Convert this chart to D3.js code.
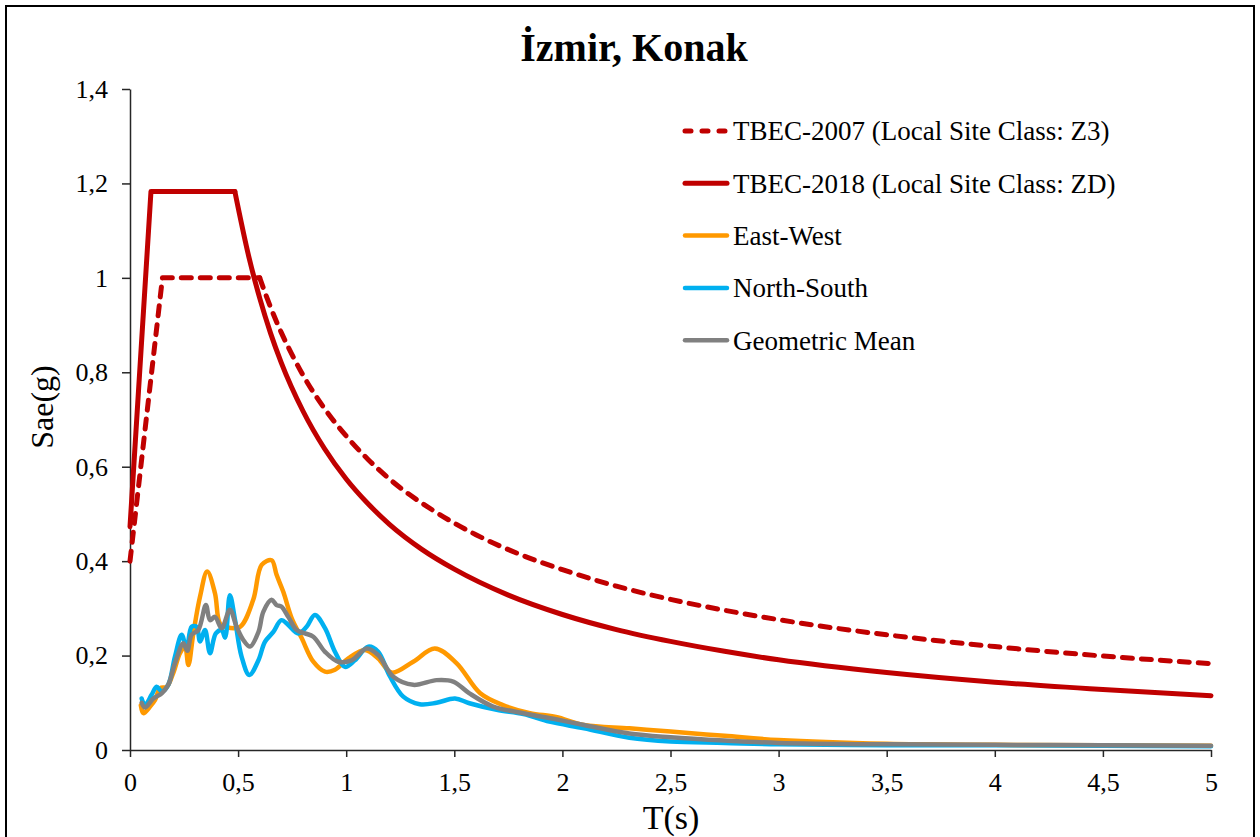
<!DOCTYPE html>
<html>
<head>
<meta charset="utf-8">
<title>İzmir, Konak</title>
<script src="https://cdn.jsdelivr.net/npm/d3@7"></script>
<style>
    body { margin: 0; background: white; }
    text { font-family: "Liberation Serif", "Times New Roman", serif; fill: #000; }
    .tick text { font-size: 26px; }
    .axis path, .axis line { stroke: #262626; stroke-width: 1.5px; }
</style>
</head>
<body>
<div id="chart"></div>
<script>
// ---- data ----
const xTicks = [0, 0.5, 1, 1.5, 2, 2.5, 3, 3.5, 4, 4.5, 5];
const xTickLabels = ["0", "0,5", "1", "1,5", "2", "2,5", "3", "3,5", "4", "4,5", "5"];
const yTicks = [0, 0.2, 0.4, 0.6, 0.8, 1, 1.2, 1.4];
const yTickLabels = ["0", "0,2", "0,4", "0,6", "0,8", "1", "1,2", "1,4"];

const seriesNames = ["TBEC-2007 (Local Site Class: Z3)", "TBEC-2018 (Local Site Class: ZD)",
    "East-West", "North-South", "Geometric Mean"];

// TBEC-2007 design spectrum (dashed)
const tbec2007T  = [0, 0.15, 0.6, 0.65, 0.7, 0.75, 0.8, 0.9, 1.0, 1.1, 1.2, 1.4, 1.6, 1.8, 2.0, 2.25, 2.5, 2.75, 3, 3.5, 4, 4.5, 5];
const tbec2007Sa = [0.40, 1.0, 1.0, 0.938, 0.884, 0.837, 0.794, 0.723, 0.665, 0.616, 0.574, 0.508, 0.456, 0.415, 0.382, 0.347, 0.319, 0.296, 0.276, 0.244, 0.219, 0.199, 0.183];

// TBEC-2018 design spectrum (solid)
const tbec2018T  = [0, 0.097, 0.485, 0.55, 0.6, 0.65, 0.7, 0.8, 0.9, 1.0, 1.1, 1.2, 1.35, 1.5, 1.75, 2, 2.25, 2.5, 2.75, 3, 3.5, 4, 4.5, 5];
const tbec2018Sa = [0.473, 1.183, 1.183, 1.044, 0.957, 0.883, 0.82, 0.718, 0.638, 0.574, 0.522, 0.478, 0.425, 0.383, 0.328, 0.287, 0.255, 0.230, 0.209, 0.191, 0.164, 0.1435, 0.128, 0.115];

// East-West record
const ewT  = [0.05, 0.062, 0.093, 0.116, 0.139, 0.17, 0.2, 0.231, 0.254, 0.27, 0.293, 0.324, 0.357, 0.393, 0.416, 0.447, 0.509, 0.57, 0.609, 0.655, 0.678, 0.709, 0.748, 0.794, 0.848, 0.902, 0.948, 1.01, 1.087, 1.148, 1.21, 1.31, 1.41, 1.51, 1.62, 1.725, 1.85, 1.97, 2.1, 2.31, 2.5, 2.75, 3, 3.5, 4, 4.5, 5];
const ewSa = [0.095, 0.078, 0.092, 0.106, 0.131, 0.134, 0.163, 0.205, 0.219, 0.18, 0.247, 0.325, 0.378, 0.332, 0.268, 0.26, 0.261, 0.318, 0.392, 0.402, 0.371, 0.335, 0.279, 0.237, 0.187, 0.166, 0.17, 0.194, 0.212, 0.194, 0.164, 0.187, 0.215, 0.184, 0.12, 0.095, 0.078, 0.07, 0.053, 0.046, 0.039, 0.03, 0.021, 0.013, 0.011, 0.01, 0.009];

// North-South record
const nsT  = [0.054, 0.069, 0.1, 0.123, 0.147, 0.177, 0.208, 0.239, 0.262, 0.285, 0.308, 0.324, 0.347, 0.37, 0.397, 0.424, 0.44, 0.462, 0.486, 0.516, 0.552, 0.594, 0.624, 0.663, 0.70, 0.732, 0.778, 0.817, 0.855, 0.902, 0.948, 0.994, 1.04, 1.102, 1.148, 1.2, 1.264, 1.34, 1.418, 1.503, 1.57, 1.696, 1.82, 1.94, 2.1, 2.31, 2.5, 2.75, 3, 3.5, 4, 4.5, 5];
const nsSa = [0.109, 0.095, 0.117, 0.134, 0.124, 0.138, 0.198, 0.244, 0.215, 0.261, 0.261, 0.23, 0.254, 0.205, 0.247, 0.254, 0.238, 0.328, 0.275, 0.198, 0.159, 0.19, 0.229, 0.25, 0.275, 0.265, 0.247, 0.261, 0.286, 0.258, 0.208, 0.176, 0.19, 0.219, 0.208, 0.158, 0.113, 0.097, 0.10, 0.109, 0.099, 0.085, 0.076, 0.06, 0.046, 0.026, 0.018, 0.015, 0.012, 0.01, 0.01, 0.009, 0.008];

// Geometric mean
const gmT  = [0.054, 0.069, 0.108, 0.147, 0.177, 0.208, 0.247, 0.265, 0.285, 0.316, 0.351, 0.37, 0.393, 0.424, 0.462, 0.493, 0.524, 0.555, 0.594, 0.617, 0.655, 0.678, 0.70, 0.732, 0.771, 0.809, 0.848, 0.902, 0.963, 1.025, 1.095, 1.148, 1.218, 1.31, 1.418, 1.495, 1.57, 1.68, 1.82, 1.97, 2.1, 2.31, 2.5, 2.75, 3, 3.5, 4, 4.5, 5];
const gmSa = [0.10, 0.09, 0.109, 0.12, 0.138, 0.184, 0.226, 0.21, 0.244, 0.254, 0.307, 0.275, 0.282, 0.258, 0.297, 0.261, 0.233, 0.219, 0.25, 0.293, 0.318, 0.307, 0.304, 0.282, 0.254, 0.247, 0.24, 0.208, 0.187, 0.19, 0.215, 0.201, 0.155, 0.138, 0.148, 0.145, 0.12, 0.092, 0.078, 0.065, 0.053, 0.035, 0.027, 0.02, 0.015, 0.012, 0.011, 0.01, 0.009];

// ---- layout ----
const W = 1260, H = 837;
const plot = {left: 130, right: 1211, top: 89, bottom: 750};

const svg = d3.select("#chart").append("svg")
    .attr("width", W)
    .attr("height", H);

// outer frame
svg.append("rect")
    .attr("x", 6).attr("y", 6)
    .attr("width", 1248).attr("height", 900)
    .attr("fill", "white")
    .attr("stroke", "#000")
    .attr("stroke-width", 2);

const x = d3.scaleLinear().domain([0, 5]).range([plot.left, plot.right]);
const y = d3.scaleLinear().domain([0, 1.4]).range([plot.bottom, plot.top]);

// axes
svg.append("g")
    .attr("class", "axis")
    .attr("transform", `translate(0,${plot.bottom})`)
    .call(d3.axisBottom(x).tickValues(xTicks).tickSize(7).tickSizeOuter(0).tickPadding(16)
        .tickFormat((d, i) => xTickLabels[i]));

svg.append("g")
    .attr("class", "axis")
    .attr("transform", `translate(${plot.left},0)`)
    .call(d3.axisLeft(y).tickValues(yTicks).tickSize(8).tickSizeOuter(0).tickPadding(14)
        .tickFormat((d, i) => yTickLabels[i]));

// series (design spectra: straight rise + plateau, smooth descending branch)
const series = [
    {T: tbec2007T, Sa: tbec2007Sa, color: "#C00000", width: 5, dash: "10,9", knee: 2},
    {T: tbec2018T, Sa: tbec2018Sa, color: "#C00000", width: 5, dash: null, knee: 2},
    {T: ewT, Sa: ewSa, color: "#FF9900", width: 4.5, dash: null, knee: null},
    {T: nsT, Sa: nsSa, color: "#00B0F0", width: 4.5, dash: null, knee: null},
    {T: gmT, Sa: gmSa, color: "#808080", width: 4.5, dash: null, knee: null}
];

function drawPath(pts, curve, s) {
    const line = d3.line()
        .x(d => x(d[0]))
        .y(d => y(d[1]))
        .curve(curve);
    svg.append("path")
        .datum(pts)
        .attr("d", line)
        .attr("fill", "none")
        .attr("stroke", s.color)
        .attr("stroke-width", s.width)
        .attr("stroke-linejoin", "round")
        .attr("stroke-linecap", "round")
        .attr("stroke-dasharray", s.dash);
}

series.forEach(s => {
    const pts = s.T.map((t, i) => [t, s.Sa[i]]);
    if (s.knee !== null) {
        drawPath(pts.slice(0, s.knee + 1), d3.curveLinear, s);
        drawPath(pts.slice(s.knee), d3.curveMonotoneX, s);
    } else {
        drawPath(pts, d3.curveCatmullRom, s);
    }
});

// title
svg.append("text")
    .attr("x", 634)
    .attr("y", 61)
    .attr("text-anchor", "middle")
    .style("font-size", "40px")
    .style("font-weight", "bold")
    .text("İzmir, Konak");

// axis titles
svg.append("text")
    .attr("x", 671)
    .attr("y", 829)
    .attr("text-anchor", "middle")
    .style("font-size", "34px")
    .text("T(s)");

svg.append("text")
    .attr("transform", "translate(53,407) rotate(-90)")
    .attr("text-anchor", "middle")
    .style("font-size", "32px")
    .text("Sae(g)");

// legend
const legend = svg.append("g").attr("transform", "translate(683,131)");
series.forEach((s, i) => {
    const g = legend.append("g").attr("transform", `translate(0,${i * 52.3})`);
    g.append("line")
        .attr("x1", 2).attr("x2", 44)
        .attr("y1", 0).attr("y2", 0)
        .attr("stroke", s.color)
        .attr("stroke-width", s.width)
        .attr("stroke-linecap", "round")
        .attr("stroke-dasharray", s.dash ? "6,11" : null);
    g.append("text")
        .attr("x", 50)
        .attr("y", 0)
        .attr("dy", "0.35em")
        .style("font-size", "27px")
        .text(seriesNames[i]);
});
</script>
</body>
</html>
